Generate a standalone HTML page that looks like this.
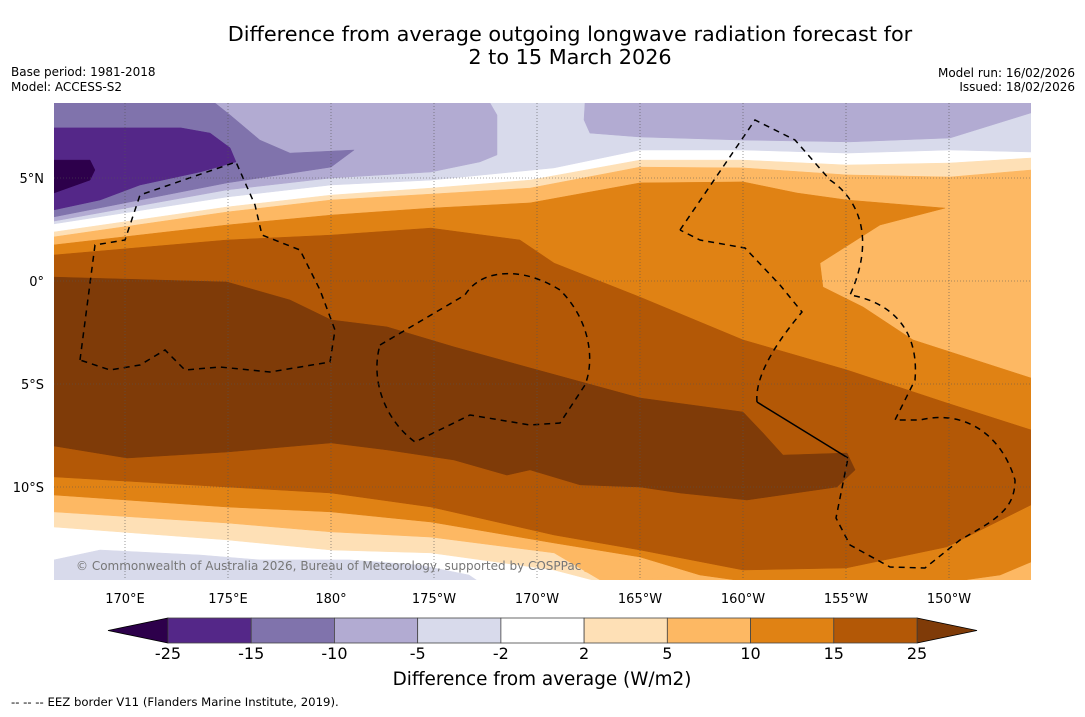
<!DOCTYPE html>
<html><head><meta charset="utf-8"><style>
body{margin:0;background:#fff;font-family:"DejaVu Sans","Liberation Sans",sans-serif}
svg text{font-family:"DejaVu Sans","Liberation Sans",sans-serif}
</style></head><body>
<svg id="chart" width="1085" height="713" viewBox="0 0 1085 713" xmlns="http://www.w3.org/2000/svg">
<text x="570" y="41" font-size="20.8" text-anchor="middle">Difference from average outgoing longwave radiation forecast for</text>
<text x="570" y="64" font-size="20.8" text-anchor="middle">2 to 15 March 2026</text>
<text x="11" y="76" font-size="12">Base period: 1981-2018</text>
<text x="11" y="91" font-size="12">Model: ACCESS-S2</text>
<text x="1075" y="77" font-size="12" text-anchor="end">Model run: 16/02/2026</text>
<text x="1075" y="91" font-size="12" text-anchor="end">Issued: 18/02/2026</text>
<defs><clipPath id="mapclip"><rect x="54" y="103" width="977" height="477"/></clipPath></defs>
<g id="map" clip-path="url(#mapclip)">
<rect x="54" y="103" width="977" height="477" fill="#ffffff"/>
<g id="bands"></g>
<g id="eez" fill="none" stroke="#000" stroke-width="1.5" stroke-dasharray="6,5">
<path d="M80,360 L95,245 L125,240 L140,195 L236,162 L255,205 L262,235 L300,250 L320,290 L335,330 L330,362 L270,372 L220,367 L185,370 L165,350 L140,365 L110,370 Z"/>
<path d="M380,345 L465,295 C480,270 520,265 560,290 C590,320 595,360 585,385 L560,423 L530,425 L470,415 L415,442 C385,420 370,380 380,345 Z"/>
<path d="M680,230 L755,120 L795,140 L830,180 C860,200 875,240 850,295 C880,300 920,320 915,380 L895,420 L920,420 C960,410 1000,430 1015,480 C1015,510 995,520 960,540 L925,568 L890,567 L850,545 L836,518 L848,458"/>
<path d="M757,402 C755,380 770,350 802,312 L780,285 L745,248 L700,240 L680,230"/>
<path d="M757,402 L848,458" stroke-dasharray="none"/>
</g>
<g id="grid" stroke="#555" stroke-width="0.6" stroke-dasharray="1,2" fill="none"></g>
<text x="76" y="570" font-size="12" fill="#777">© Commonwealth of Australia 2026, Bureau of Meteorology, supported by COSPPac</text>
</g>
<g id="axislabels" font-size="13"></g>
<g id="colorbar"></g>
<text x="542" y="685" font-size="18.4" text-anchor="middle">Difference from average (W/m2)</text>
<text x="11" y="706" font-size="11.7">--  --  -- EEZ border V11 (Flanders Marine Institute, 2019).</text>
</svg>
<script>
const lonTicks=[170,175,180,185,190,195,200,205,210];
const lonTickLabels=["170°E","175°E","180°","175°W","170°W","165°W","160°W","155°W","150°W"];
const latTicks=[5,0,-5,-10];
const latTickLabels=["5°N","0°","5°S","10°S"];
const levels=[-25,-15,-10,-5,-2,2,5,10,15,25];
const levelColors=["#2d004b","#542788","#8073ac","#b2abd2","#d8daeb","#ffffff","#fee0b6","#fdb863","#e08214","#b35806","#7f3b08"];
const regionLevels=[4,3,2,1,0,3,4,6,7,8,9,10,7];
const regionPolys=[
 [[166.55,8.64],[213.98,8.64],[213.98,6.26],[210.05,6.36],[205.05,6.21],[200,6.36],[195,6.36],[190.83,5.49],[184.85,4.90],[180,4.66],[174.95,4.08],[166.55,2.77]],
 [[166.55,8.64],[187.72,8.64],[188.06,8.06],[188.06,6.12],[187.23,5.78],[184.85,5.29],[180,5.0],[174.95,4.42],[166.55,2.91]],
 [[166.55,8.64],[174.37,8.64],[175.10,8.06],[176.55,6.84],[178.01,6.21],[181.12,6.36],[180,5.53],[174.95,4.76],[166.55,3.11]],
 [[166.55,7.43],[172.72,7.43],[174.13,7.18],[175.10,6.46],[175.39,5.78],[173.64,5.29],[170.73,4.66],[168.79,3.93],[166.55,3.45]],
 [[166.55,5.87],[168.30,5.87],[168.54,5.39],[168.30,4.90],[166.55,4.27]],
 [[192.33,8.64],[213.98,8.64],[213.98,8.16],[210.05,6.94],[205.19,6.75],[200,6.84],[195,6.99],[192.57,7.18],[192.28,7.82]],
 [[166.55,-13.54],[168.79,-13.06],[173.64,-13.30],[176.55,-13.54],[180.9,-13.54],[184.3,-13.79],[186.7,-14.27],[187.2,-14.61],[166.55,-14.61]],
 [[166.55,2.38],[174.95,3.59],[180,4.17],[184.85,4.51],[189.66,4.90],[195,5.87],[200,5.87],[205.05,5.63],[210.05,5.73],[213.98,5.97],[213.98,-14.61],[193.06,-14.61],[190.83,-14.03],[184.85,-13.20],[180,-13.06],[174.95,-12.57],[166.55,-11.94]],
 [[166.55,2.14],[174.95,3.35],[180,3.93],[184.85,4.22],[189.66,4.51],[195,5.53],[200,5.49],[205.05,5.15],[210.05,5.05],[213.98,5.39],[213.98,-14.61],[194.03,-14.61],[193.06,-14.51],[190.83,-13.20],[184.85,-12.43],[180,-12.18],[174.95,-11.75],[166.55,-11.21]],
 [[166.55,1.75],[174.95,2.72],[180,3.20],[184.85,3.54],[189.66,3.79],[195,4.76],[200,4.81],[202.62,4.27],[205.05,3.93],[209.81,3.54],[206.65,2.72],[203.74,0.87],[203.88,-0.29],[205.83,-1.26],[208.25,-2.86],[213.98,-4.71],[213.98,-13.64],[212.48,-14.27],[210.05,-14.61],[200.34,-14.61],[197.91,-14.27],[195,-13.40],[190.83,-12.72],[184.85,-11.70],[180,-11.21],[174.95,-10.97],[166.55,-10.39]],
 [[166.55,1.26],[174.95,1.99],[180,2.23],[184.85,2.57],[189.17,1.99],[190.83,0.87],[195,-0.78],[200,-2.86],[205.05,-4.32],[209.9,-5.92],[213.98,-7.23],[213.98,-10.87],[209.9,-12.91],[205,-13.93],[200,-14.03],[195,-13.06],[190.83,-12.33],[184.85,-10.97],[180,-10.29],[174.95,-10.0],[166.55,-9.51]],
 [[166.55,0.19],[174.95,-0.05],[178.01,-0.92],[180,-1.89],[182.72,-2.23],[185.97,-3.20],[189.66,-4.22],[195,-5.68],[200,-6.36],[200.97,-7.38],[201.94,-8.45],[205.05,-8.35],[205.44,-9.17],[204.56,-10.0],[200.19,-10.63],[196.94,-10.29],[195,-10.0],[192.09,-9.90],[189.66,-9.17],[188.54,-9.42],[185.97,-8.69],[182.72,-8.20],[180,-7.86],[174.95,-8.30],[170.10,-8.59],[166.55,-8.01]],
 [[194.5,-14.61],[196.5,-14.3],[193.8,-13.5],[192.3,-14.1]]
];
const NS="http://www.w3.org/2000/svg";
const X0=125,PX=20.6,Y0=281;
function xOf(lon){return X0+(lon-170)*PX;}
function yOf(lat){return Y0-lat*PX;}
const bands=document.getElementById('bands');
regionPolys.forEach((poly,i)=>{
 const p=document.createElementNS(NS,'polygon');
 p.setAttribute('points',poly.map(q=>xOf(q[0]).toFixed(1)+','+yOf(q[1]).toFixed(1)).join(' '));
 p.setAttribute('fill',levelColors[regionLevels[i]]);
 p.setAttribute('stroke',levelColors[regionLevels[i]]);
 p.setAttribute('stroke-width','0.5');
 
 
 bands.appendChild(p);
});
const grid=document.getElementById('grid');
const al=document.getElementById('axislabels');
lonTicks.forEach((lon,i)=>{
 const l=document.createElementNS(NS,'line');
 l.setAttribute('x1',xOf(lon));l.setAttribute('x2',xOf(lon));l.setAttribute('y1',103);l.setAttribute('y2',580);
 
 
 grid.appendChild(l);
 const t=document.createElementNS(NS,'text');
 t.setAttribute('x',xOf(lon));t.setAttribute('y',603);t.setAttribute('text-anchor','middle');
 t.textContent=lonTickLabels[i];
 
 
 al.appendChild(t);
});
latTicks.forEach((lat,i)=>{
 const l=document.createElementNS(NS,'line');
 l.setAttribute('x1',54);l.setAttribute('x2',1031);l.setAttribute('y1',yOf(lat));l.setAttribute('y2',yOf(lat));
 
 
 grid.appendChild(l);
 const t=document.createElementNS(NS,'text');
 t.setAttribute('x',44);t.setAttribute('y',yOf(lat)+5);t.setAttribute('text-anchor','end');
 t.textContent=latTickLabels[i];
 
 
 al.appendChild(t);
});
const cb=document.getElementById('colorbar');
const cbL=168,cbR=917,cbT=618,cbB=643,n=levels.length-1,w=(cbR-cbL)/n;
function mk(tag,attrs){const e=document.createElementNS(NS,tag);for(const k in attrs)e.setAttribute(k,attrs[k]);cb.appendChild(e);return e;}
const lt=mk('polygon',{points:`${cbL},${cbT} ${cbL},${cbB} 108,${(cbT+cbB)/2}`,fill:levelColors[0],stroke:'#000','stroke-width':0.8});


const rt=mk('polygon',{points:`${cbR},${cbT} ${cbR},${cbB} 977,${(cbT+cbB)/2}`,fill:levelColors[levelColors.length-1],stroke:'#000','stroke-width':0.8});


for(let i=0;i<n;i++){
 const r=mk('rect',{x:cbL+i*w,y:cbT,width:w,height:cbB-cbT,fill:levelColors[i+1],stroke:'#444','stroke-width':0.8});
 
 
}
levels.forEach((v,i)=>{
 const t=mk('text',{x:cbL+i*w,y:659,'font-size':16,'text-anchor':'middle'});
 t.textContent=String(v);
 
 
});
</script>
</body></html>
